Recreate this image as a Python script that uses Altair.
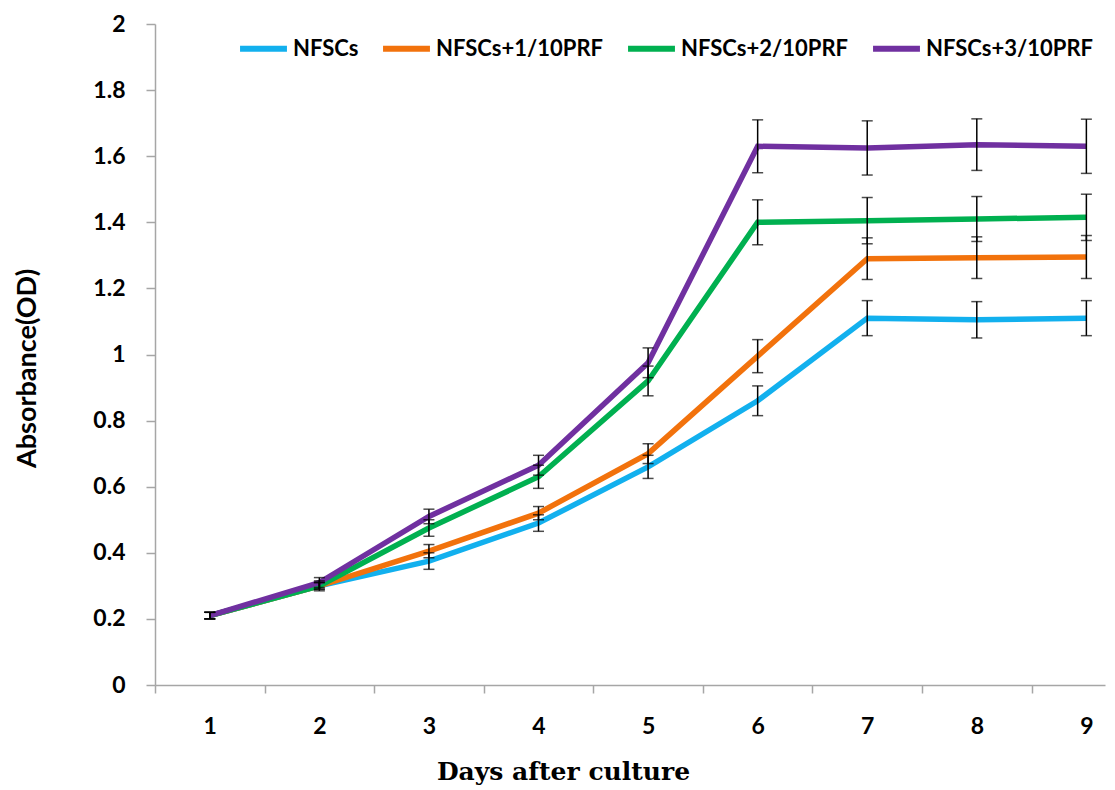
import altair as alt
import pandas as pd

days = [1, 2, 3, 4, 5, 6, 7, 8, 9]
series_names = ["NFSCs", "NFSCs+1/10PRF", "NFSCs+2/10PRF", "NFSCs+3/10PRF"]
colors = ["#12B0EE", "#F2720C", "#00B050", "#7030A0"]

nfscs = [0.21, 0.30, 0.375, 0.49, 0.66, 0.86, 1.11, 1.105, 1.11]
prf1 = [0.21, 0.30, 0.405, 0.52, 0.70, 0.995, 1.29, 1.293, 1.295]
prf2 = [0.21, 0.30, 0.475, 0.63, 0.92, 1.40, 1.405, 1.41, 1.415]
prf3 = [0.21, 0.31, 0.51, 0.665, 0.975, 1.63, 1.625, 1.635, 1.63]

nfscs_err = [0.01, 0.01, 0.025, 0.025, 0.035, 0.045, 0.053, 0.055, 0.053]
prf1_err = [0.01, 0.01, 0.02, 0.02, 0.03, 0.05, 0.063, 0.063, 0.065]
prf2_err = [0.01, 0.015, 0.025, 0.035, 0.045, 0.068, 0.07, 0.068, 0.07]
prf3_err = [0.01, 0.015, 0.022, 0.03, 0.045, 0.08, 0.082, 0.078, 0.082]

y_ticks = [0, 0.2, 0.4, 0.6, 0.8, 1, 1.2, 1.4, 1.6, 1.8, 2]
x_ticks = [0.5, 1, 1.5, 2, 2.5, 3, 3.5, 4, 4.5, 5, 5.5, 6, 6.5, 7, 7.5, 8, 8.5, 9]

rows = []
for name, vals, errs in zip(series_names, [nfscs, prf1, prf2, prf3],
                            [nfscs_err, prf1_err, prf2_err, prf3_err]):
    for d, v, e in zip(days, vals, errs):
        rows.append({"day": d, "series": name, "value": v, "lo": v - e, "hi": v + e})
df = pd.DataFrame(rows)

FONT = "Lato"

x_enc = alt.X(
    "day:Q",
    scale=alt.Scale(domain=[0.5, 9.17], nice=False, zero=False),
    axis=alt.Axis(
        values=x_ticks,
        labelExpr="datum.value % 1 === 0 ? format(datum.value, 'd') : ''",
        tickOpacity={"condition": {"test": "datum.value % 1 === 0", "value": 0}, "value": 1},
        labelOverlap=False,
        labelFont=FONT, labelFontSize=23, labelFontWeight="bold", labelColor="black",
        labelPadding=22,
        tickSize=8, tickColor="#A6A6A6", tickWidth=1.5,
        domainColor="#A6A6A6", domainWidth=1.5,
        grid=False,
        title="Days after culture",
        titleFont="DejaVu Serif", titleFontSize=25, titleFontWeight="bold",
        titleColor="black",
        titleX=408, titleY=74, titleAlign="center", titleBaseline="top",
    ),
)

y_enc = alt.Y(
    "value:Q",
    scale=alt.Scale(domain=[0, 2], nice=False),
    axis=alt.Axis(
        values=y_ticks,
        format="~g",
        labelFont=FONT, labelFontSize=23, labelFontWeight="bold", labelColor="black",
        labelPadding=21,
        tickSize=9, tickColor="#A6A6A6", tickWidth=1.5,
        domainColor="#A6A6A6", domainWidth=1.5,
        grid=False,
        title="Absorbance(OD)",
        titleFont=FONT, titleFontSize=27, titleFontWeight="bold", titleColor="black",
        titleX=-128, titleY=344, titleAngle=-90, titleAlign="center", titleBaseline="middle",
    ),
)

color_enc = alt.Color(
    "series:N",
    scale=alt.Scale(domain=series_names, range=colors),
    sort=series_names,
    legend=alt.Legend(
        orient="none", legendX=82, legendY=-2, direction="horizontal", columns=4,
        title=None, symbolType="stroke", symbolSize=2200, symbolStrokeWidth=6,
        labelFont=FONT, labelFontSize=22, labelFontWeight="bold", labelColor="black",
        labelLimit=0, labelOffset=3, columnPadding=12, padding=0,
    ),
)

base = alt.Chart(df)

lines = base.mark_line(strokeWidth=5.5).encode(
    x=x_enc, y=y_enc, color=color_enc, detail="series:N"
)

err_rule = base.mark_rule(color="black", strokeWidth=1.5).encode(
    x="day:Q", y="lo:Q", y2="hi:Q"
)
cap_hi = base.mark_tick(color="black", thickness=1.5, size=11, orient="horizontal").encode(
    x="day:Q", y="hi:Q"
)
cap_lo = base.mark_tick(color="black", thickness=1.5, size=11, orient="horizontal").encode(
    x="day:Q", y="lo:Q"
)

chart = alt.layer(lines, err_rule, cap_hi, cap_lo).properties(
    width=950, height=661,
    padding={"left": 147, "top": 16, "right": 2, "bottom": 100},
    autosize=alt.AutoSizeParams(type="none"),
    background="white",
).configure_view(stroke=None)

chart.save("out.html", embed_options={"renderer": "svg", "actions": False})
